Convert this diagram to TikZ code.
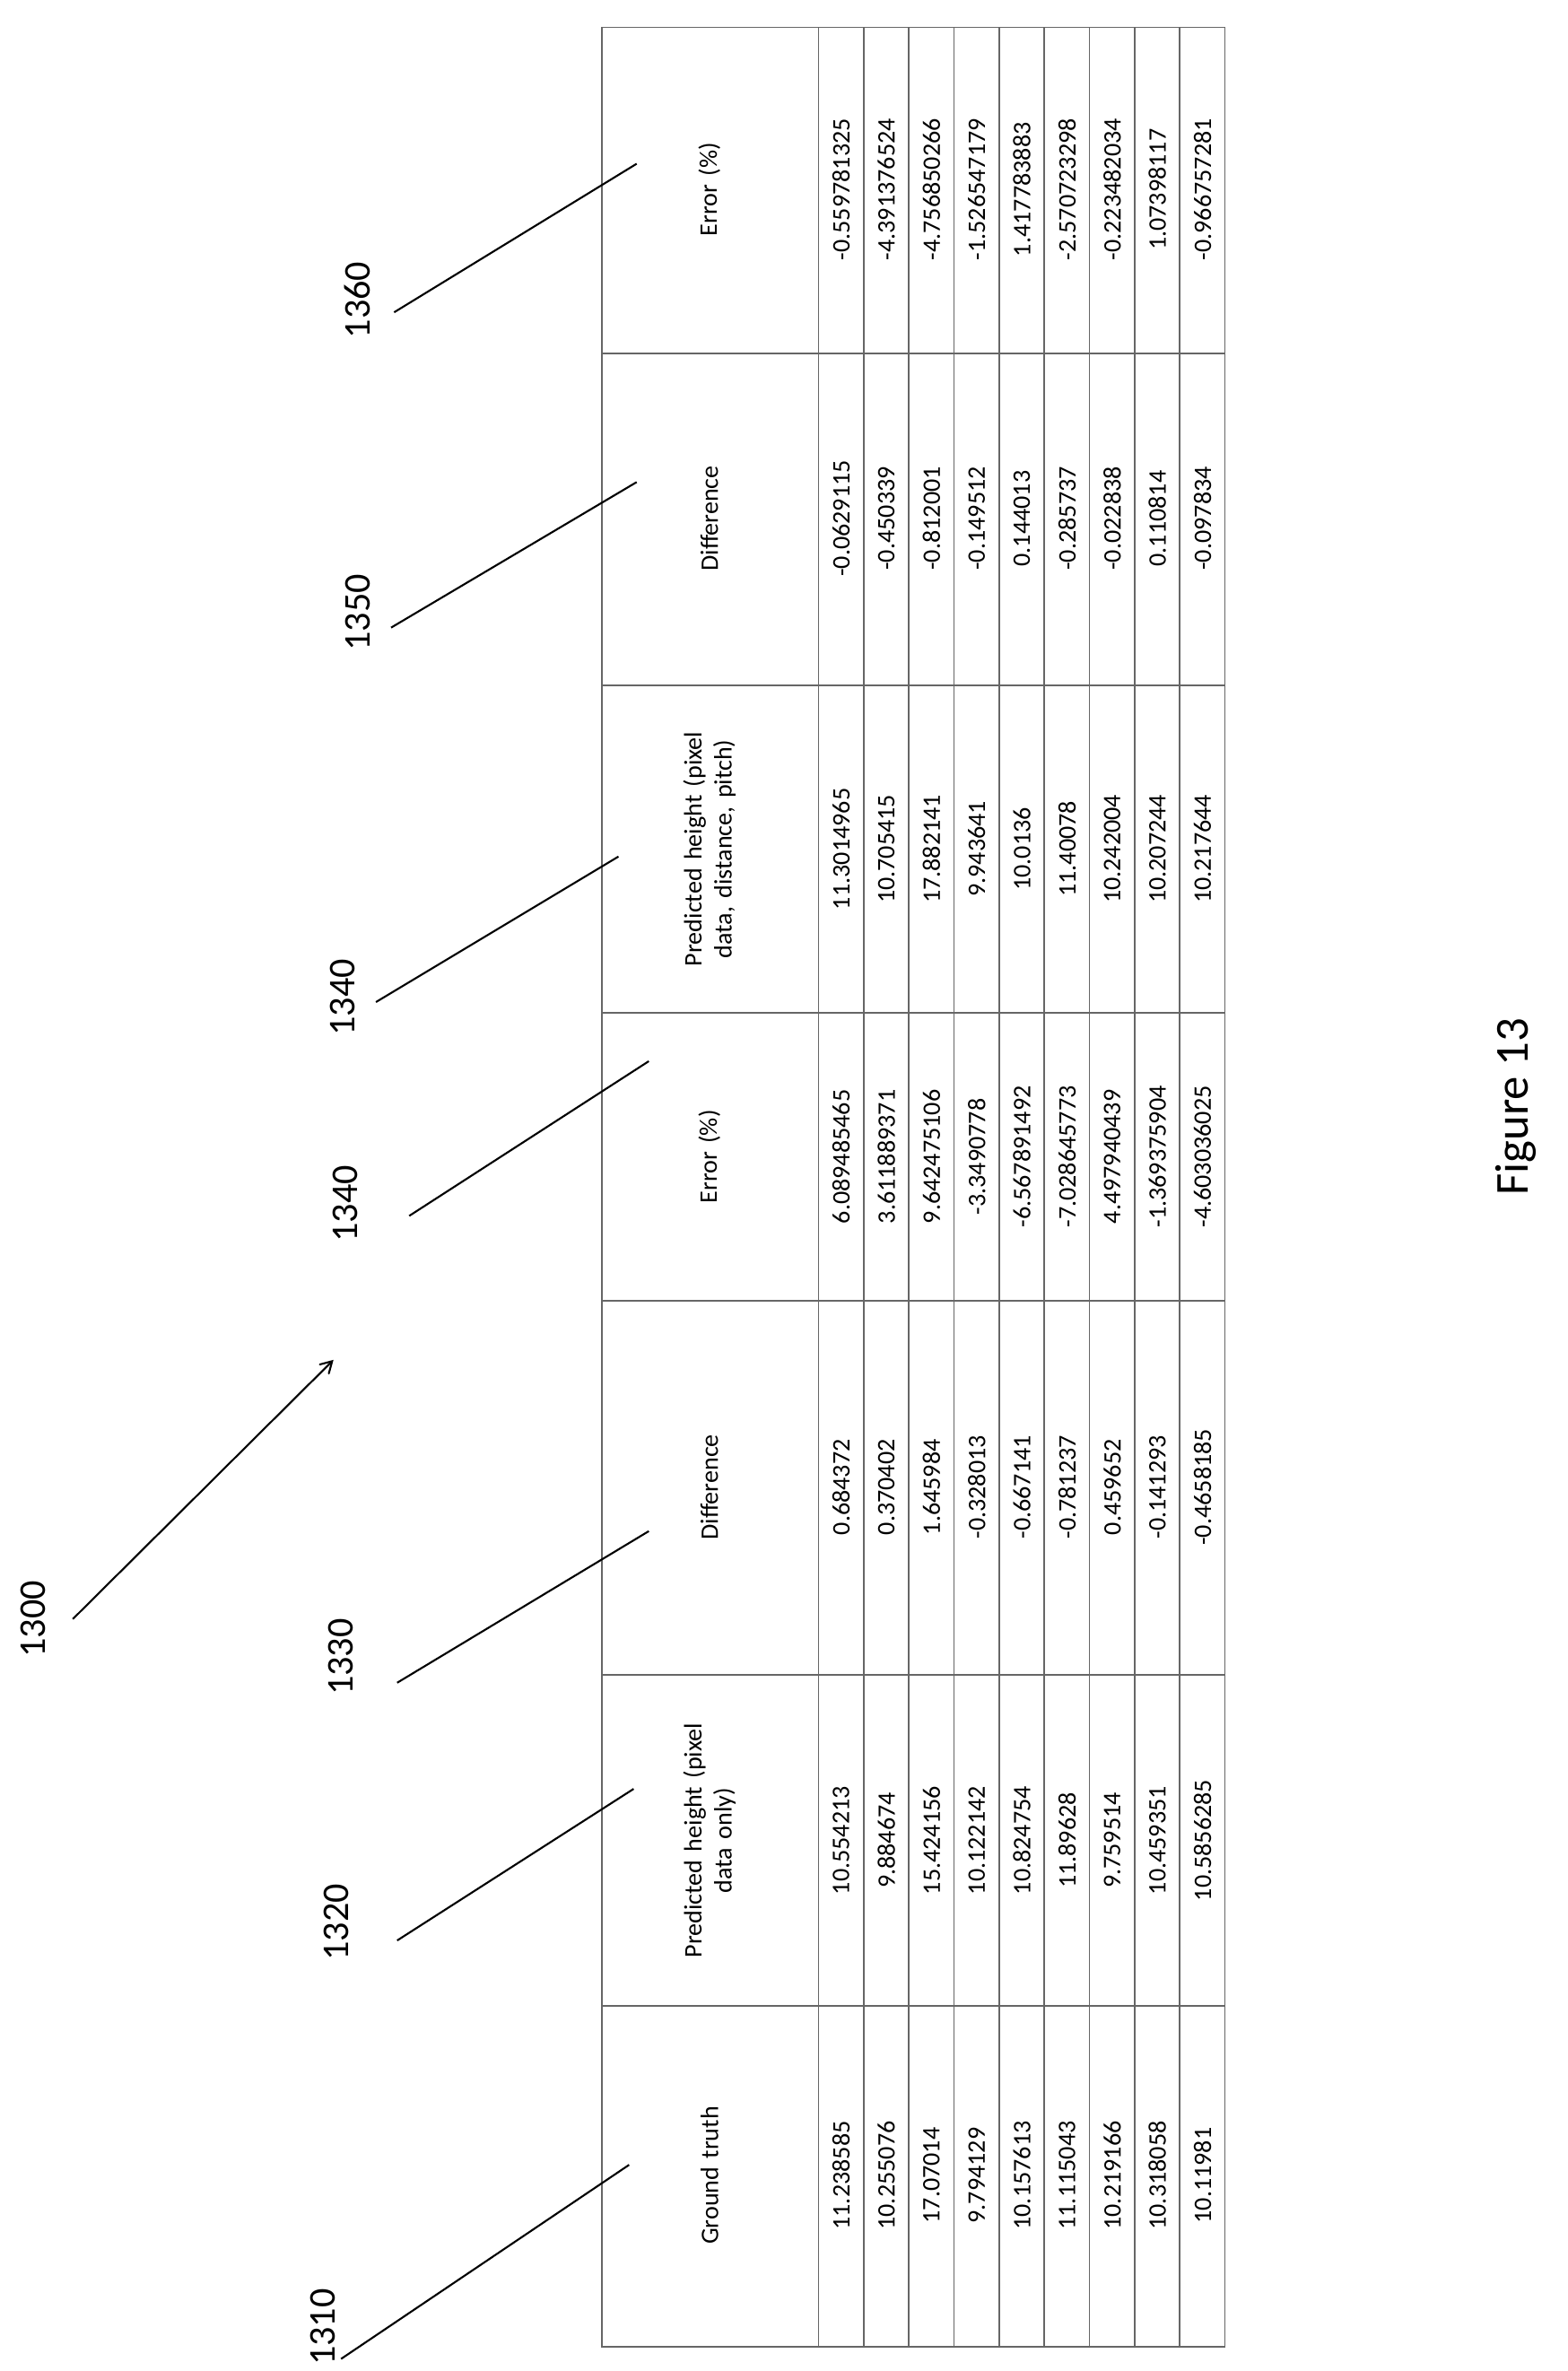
\documentclass[tikz,border=0pt]{standalone}
\usepackage{fontspec}
\setmainfont{Carlito}
\usetikzlibrary{arrows}

\begin{document}
\begin{tikzpicture}[
    x=0.0169cm, y=-0.0169cm,
    grid/.style={draw=black!60, line width=0.5pt},
    cell/.style={rotate=90, font=\fontsize{8}{9.5}\selectfont, inner sep=0pt},
    head/.style={cell, align=center, text width=3.2cm},
    refnum/.style={rotate=90, font=\fontsize{12}{14}\selectfont},
    leader/.style={draw, line width=0.6pt}
]
    \useasboundingbox (0,0) rectangle (1034,1564);
    % table frame and grid
    \draw[grid] (397,18) rectangle (808,1548);
    \foreach \y in {233,452,668,858,1105,1323}
        \draw[grid] (397,\y) -- (808,\y);
    \foreach \x in {540,569.8,599.6,629.3,659.1,688.9,718.7,748.4,778.2}
        \draw[grid] (\x,18) -- (\x,1548);
    % headers
    \node[head] (h1) at (468,1435) {Ground truth};
    \node[head] (h2) at (468,1214) {Predicted height (pixel\\ data only)};
    \node[head] (h3) at (468,981) {Difference};
    \node[head] (h4) at (468,763) {Error (\%)};
    \node[head] (h5) at (468,560) {Predicted height (pixel\\ data, distance, pitch)};
    \node[head] (h6) at (468,342) {Difference};
    \node[head] (h7) at (468,125) {Error (\%)};
    % data rows
    \foreach \a/\b/\c/\d/\e/\f/\g [count=\i from 0] in {
        11.238585/10.554213/0.684372/6.089485465/11.3014965/-0.0629115/-0.559781325,
        10.255076/9.884674/0.370402/3.611889371/10.705415/-0.450339/-4.391376524,
        17.07014/15.424156/1.645984/9.642475106/17.882141/-0.812001/-4.756850266,
        9.794129/10.122142/-0.328013/-3.3490778/9.943641/-0.149512/-1.526547179,
        10.157613/10.824754/-0.667141/-6.567891492/10.0136/0.144013/1.417783883,
        11.115043/11.89628/-0.781237/-7.028645773/11.40078/-0.285737/-2.570723298,
        10.219166/9.759514/0.459652/4.497940439/10.242004/-0.022838/-0.223482034,
        10.318058/10.459351/-0.141293/-1.369375904/10.207244/0.110814/1.07398117,
        10.11981/10.5856285/-0.4658185/-4.603036025/10.217644/-0.097834/-0.966757281}
    {
        \pgfmathsetmacro\rx{554.9+29.8*\i}
        \node[cell] (r\i c1) at (\rx,1435) {\a};
        \node[cell] (r\i c2) at (\rx,1214) {\b};
        \node[cell] (r\i c3) at (\rx,981) {\c};
        \node[cell] (r\i c4) at (\rx,763) {\d};
        \node[cell] (r\i c5) at (\rx,560) {\e};
        \node[cell] (r\i c6) at (\rx,342) {\f};
        \node[cell] (r\i c7) at (\rx,125) {\g};
    }
    % reference numerals
    \node[refnum] (n1310) at (213,1535) {1310};
    \node[refnum] (n1320) at (222,1268) {1320};
    \node[refnum] (n1330) at (225,1093) {1330};
    \node[refnum] (n1300) at (22,1068) {1300};
    \node[refnum] (n1340a) at (228,794) {1340};
    \node[refnum] (n1340b) at (226,658) {1340};
    \node[refnum] (n1350) at (236,404) {1350};
    \node[refnum] (n1360) at (236,198) {1360};
    \coordinate (e1310) at (415,1428);
    \coordinate (e1320) at (418,1180);
    \coordinate (e1330) at (428,1010);
    \coordinate (e1300) at (220,897);
    \coordinate (e1340a) at (428,700);
    \coordinate (e1340b) at (408,565);
    \coordinate (e1350) at (420,318);
    \coordinate (e1360) at (420,108);
    \draw[leader] (225,1556) -- (e1310);
    \draw[leader] (262,1280) -- (e1320);
    \draw[leader] (262,1110) -- (e1330);
    \draw[leader,->,>=angle 60] (48,1068) -- (e1300);
    \draw[leader] (270,802) -- (e1340a);
    \draw[leader] (248,661) -- (e1340b);
    \draw[leader] (258,414) -- (e1350);
    \draw[leader] (260,206) -- (e1360);
    \node[rotate=90, font=\fontsize{15}{18}\selectfont] (fig) at (1000,730) {Figure 13};
\end{tikzpicture}
\end{document}
